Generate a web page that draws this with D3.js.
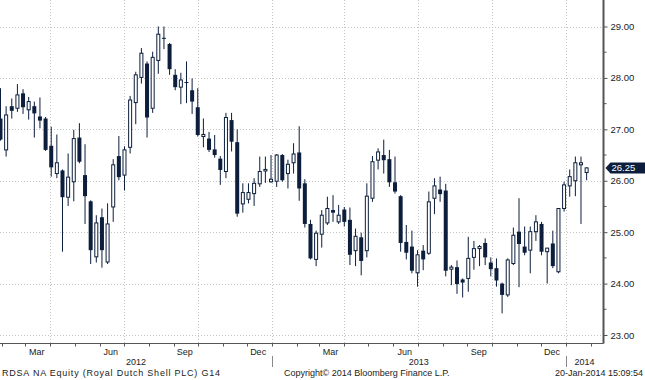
<!DOCTYPE html>
<html>
<head>
<meta charset="utf-8">
<script src="https://cdn.jsdelivr.net/npm/d3@7"></script>
<style>
  body { margin: 0; background: #fff; }
  svg { display: block; font-family: 'Liberation Sans', Arial, sans-serif; }
</style>
</head>
<body>
<svg id="chart" width="645" height="380"></svg>
<script>
// weekly candles, RDSA NA, from the week of 30-Jan-2012
const firstWeek = new Date(2012, 0, 30)
const openPx = [27.21, 26.60, 27.45, 27.41, 27.70, 27.38, 27.45, 27.25, 27.21, 26.68,
  26.14, 26.20, 25.68, 25.98, 26.84, 26.11, 25.60, 24.52, 25.29, 24.42,
  25.49, 26.48, 26.11, 26.65, 27.52, 28.01, 28.28, 27.41, 28.34, 28.78,
  28.66, 28.06, 27.82, 27.92, 27.76, 27.43, 26.86, 26.82, 26.61, 26.43,
  26.18, 27.18, 26.75, 25.55, 25.64, 25.75, 25.94, 26.19, 25.98, 25.99,
  26.50, 26.14, 26.35, 26.55, 25.95, 25.16, 24.47, 24.96, 25.18, 25.43,
  25.20, 25.44, 25.24, 24.64, 24.90, 24.64, 25.66, 26.40, 26.50, 26.42,
  25.97, 25.70, 24.81, 24.72, 24.21, 24.64, 24.59, 25.66, 25.83, 25.81,
  24.28, 24.32, 24.08, 24.10, 24.51, 24.68, 24.79, 24.41, 24.30, 24.00,
  23.78, 24.39, 25.01, 24.72, 24.65, 25.01, 25.16, 24.62, 24.78, 24.23,
  25.46, 25.90, 26.00, 26.31, 26.16]
const highPx = [27.80, 27.45, 27.60, 27.88, 27.78, 27.63, 27.54, 27.62, 27.24, 27.05,
  26.90, 26.22, 26.53, 26.99, 27.12, 26.71, 25.62, 25.33, 25.46, 25.56,
  26.42, 26.87, 26.67, 27.65, 28.12, 28.58, 28.32, 28.51, 29.00, 29.00,
  28.68, 28.17, 28.10, 28.32, 27.99, 27.80, 27.21, 26.95, 26.89, 26.48,
  27.32, 27.32, 27.00, 25.95, 25.95, 26.05, 26.47, 26.47, 26.50, 26.52,
  26.52, 26.41, 26.73, 27.06, 26.03, 25.24, 25.03, 25.43, 25.69, 25.72,
  25.53, 25.49, 25.48, 25.07, 24.99, 25.95, 26.48, 26.63, 26.80, 26.60,
  26.47, 25.72, 25.14, 25.03, 24.65, 24.75, 25.79, 26.05, 26.08, 25.94,
  24.36, 24.45, 24.10, 24.91, 24.83, 24.75, 24.88, 24.51, 24.49, 24.02,
  24.49, 25.09, 25.66, 25.11, 25.11, 25.33, 25.20, 24.69, 25.03, 25.46,
  25.98, 26.22, 26.47, 26.47, 26.26]
const lowPx = [26.78, 26.47, 27.21, 27.34, 27.30, 27.19, 26.84, 27.02, 26.58, 26.08,
  26.05, 24.62, 25.51, 25.60, 26.34, 25.16, 24.38, 24.41, 24.31, 24.38,
  25.20, 26.01, 25.81, 26.53, 27.10, 27.89, 26.84, 27.32, 28.08, 28.56,
  28.06, 27.76, 27.49, 27.51, 27.30, 26.86, 26.65, 26.56, 26.45, 25.92,
  26.05, 26.57, 25.30, 25.38, 25.56, 25.51, 25.88, 25.96, 25.96, 25.88,
  25.98, 25.85, 26.14, 25.61, 25.09, 24.47, 24.34, 24.70, 25.14, 25.20,
  25.16, 25.11, 24.36, 24.34, 24.16, 24.51, 25.59, 26.22, 26.14, 25.88,
  25.75, 24.62, 24.47, 24.20, 23.94, 24.26, 24.56, 25.35, 25.59, 24.14,
  23.97, 23.80, 23.73, 23.84, 24.27, 24.34, 24.36, 24.14, 23.94, 23.42,
  23.74, 24.36, 23.93, 24.55, 24.20, 24.83, 24.55, 24.00, 24.30, 24.20,
  25.40, 25.69, 25.70, 25.16, 26.01]
const closePx = [26.80, 27.28, 27.36, 27.67, 27.43, 27.54, 27.31, 27.17, 26.60, 26.26,
  26.35, 25.68, 26.07, 26.82, 26.37, 25.70, 24.65, 25.18, 24.65, 25.16,
  26.31, 26.07, 26.60, 27.57, 28.06, 28.48, 27.23, 28.40, 28.85, 28.76,
  28.17, 27.82, 27.96, 27.91, 27.54, 26.89, 26.90, 26.60, 26.50, 26.21,
  27.23, 26.76, 25.36, 25.77, 25.77, 25.95, 26.18, 26.22, 26.03, 26.50,
  26.01, 26.32, 26.52, 25.85, 25.16, 24.49, 24.98, 25.33, 25.46, 25.38,
  25.33, 25.20, 24.56, 24.92, 24.44, 25.70, 26.37, 26.56, 26.40, 25.97,
  25.79, 24.79, 24.60, 24.25, 24.56, 24.47, 25.59, 25.90, 25.74, 24.25,
  24.32, 23.99, 24.02, 24.49, 24.68, 24.72, 24.51, 24.28, 24.06, 23.78,
  24.46, 24.94, 24.77, 24.60, 25.01, 25.20, 24.62, 24.69, 24.34, 25.46,
  25.92, 26.08, 26.35, 26.35, 26.25]
const lastPrice = 26.25
const priceTicks = [23, 24, 25, 26, 27, 28, 29]
const minorTicks = [23.5, 24.5, 25.5, 26.5, 27.5, 28.5]
const labelMonths = [2, 5, 8, 11]
const footLeft = 'RDSA NA Equity (Royal Dutch Shell PLC) G14'
const footMid = 'Copyright\u00a9 2014 Bloomberg Finance L.P.'
const footRight = '20-Jan-2014 15:09:54'

const navy = '#0c1e3c'
const gridColor = '#c4c4c4'
const plotRight = 603.5
const plotBottom = 343.5

const svg = d3.select('#chart')

const x = d3.scaleTime()
  .domain([new Date(2012, 0, 30), new Date(2014, 0, 1)])
  .range([0.5, 565.7])
const y = d3.scaleLinear().domain([23, 29]).range([335, 26.5])

const weeks = d3.range(openPx.length).map(i => d3.timeWeek.offset(firstWeek, i))
const candles = weeks.map((d, i) => ({date: d, o: openPx[i], h: highPx[i], l: lowPx[i], c: closePx[i]}))

svg.append('defs').append('clipPath').attr('id', 'plot')
  .append('rect').attr('x', 0).attr('y', 0).attr('width', plotRight).attr('height', plotBottom)

// grid
const grid = svg.append('g')
  .attr('stroke', gridColor).attr('stroke-dasharray', '1,2').attr('shape-rendering', 'crispEdges')
grid.selectAll('line.h').data(priceTicks).enter().append('line')
  .attr('x1', 0).attr('x2', plotRight)
  .attr('y1', d => Math.round(y(d)) + 0.5).attr('y2', d => Math.round(y(d)) + 0.5)

const months = d3.timeMonth.range(x.invert(0), x.invert(plotRight))
grid.selectAll('line.v').data(months.filter(d => d.getMonth() % 3 === 0)).enter().append('line')
  .attr('y1', 0).attr('y2', plotBottom)
  .attr('x1', d => Math.round(x(d)) + 0.5).attr('x2', d => Math.round(x(d)) + 0.5)

// candles
const candleGroup = svg.append('g').attr('clip-path', 'url(#plot)')
const candle = candleGroup.selectAll('g').data(candles).enter().append('g')
  .attr('transform', d => 'translate(' + x(d.date) + ',0)')

candle.append('line')
  .attr('y1', d => y(d.h)).attr('y2', d => y(d.l))
  .attr('stroke', navy).attr('stroke-width', 1)

candle.append('rect')
  .attr('x', d => d.c < d.o ? -2 : -1.5)
  .attr('width', d => d.c < d.o ? 4 : 3)
  .attr('y', d => y(Math.max(d.o, d.c)))
  .attr('height', d => Math.max(1, y(Math.min(d.o, d.c)) - y(Math.max(d.o, d.c))))
  .attr('fill', d => d.c < d.o ? navy : '#fff')
  .attr('stroke', d => d.c < d.o ? 'none' : navy)
  .attr('stroke-width', 1)

// right price axis
svg.append('line')
  .attr('x1', plotRight).attr('x2', plotRight).attr('y1', 0).attr('y2', plotBottom)
  .attr('stroke', '#555').attr('stroke-width', 2)

const yAxis = svg.append('g')
  .attr('transform', 'translate(' + plotRight + ',0)')
  .call(d3.axisRight(y).tickValues(priceTicks).tickFormat(d3.format('.2f')).tickSize(4).tickPadding(3))
yAxis.select('.domain').remove()
yAxis.selectAll('line').attr('stroke', '#555')
yAxis.selectAll('text').attr('font-size', 9.5).attr('fill', '#222')
  .attr('font-family', "'Liberation Sans', Arial, sans-serif")

svg.append('g').selectAll('line').data(minorTicks).enter().append('line')
  .attr('x1', plotRight).attr('x2', plotRight + 3)
  .attr('y1', d => y(d)).attr('y2', d => y(d))
  .attr('stroke', '#555')

// last price tag
const ly = y(lastPrice)
svg.append('path')
  .attr('d', `M${plotRight + 2},${ly} L${plotRight + 7},${ly - 5.5} L645,${ly - 5.5} L645,${ly + 5.5} L${plotRight + 7},${ly + 5.5} Z`)
  .attr('fill', navy)
svg.append('text')
  .attr('x', plotRight + 8).attr('y', ly).attr('dy', '0.35em')
  .attr('font-size', 9.5).attr('fill', '#fff')
  .text(d3.format('.2f')(lastPrice))

// bottom time axis
svg.append('line')
  .attr('x1', 0).attr('x2', plotRight).attr('y1', plotBottom).attr('y2', plotBottom)
  .attr('stroke', '#555')
svg.append('g').selectAll('line').data(months).enter().append('line')
  .attr('x1', d => Math.round(x(d)) + 0.5).attr('x2', d => Math.round(x(d)) + 0.5)
  .attr('y1', plotBottom).attr('y2', plotBottom + 3)
  .attr('stroke', '#555')

svg.append('g').selectAll('text')
  .data(months.filter(d => labelMonths.includes(d.getMonth()))).enter().append('text')
  .attr('x', d => x(d3.timeDay.offset(d, 14)))
  .attr('y', 355)
  .attr('text-anchor', 'middle').attr('font-size', 9).attr('fill', '#222')
  .text(d3.timeFormat('%b'))

const years = d3.timeYear.range(d3.timeYear.floor(x.invert(0)), x.invert(plotRight))
svg.append('g').selectAll('text').data(years).enter().append('text')
  .attr('x', d => (Math.max(0, x(d)) + Math.min(plotRight, x(d3.timeYear.offset(d, 1)))) / 2)
  .attr('y', 365)
  .attr('text-anchor', 'middle').attr('font-size', 9).attr('fill', '#222')
  .text(d3.timeFormat('%Y'))
svg.append('g').selectAll('line').data(years.filter(d => x(d) > 0)).enter().append('line')
  .attr('x1', d => Math.round(x(d)) + 0.5).attr('x2', d => Math.round(x(d)) + 0.5)
  .attr('y1', 356).attr('y2', 367)
  .attr('stroke', '#888')

// footer
const foot = svg.append('g').attr('font-size', 9).attr('fill', '#222')
foot.append('text').attr('x', 2).attr('y', 376)
  .attr('textLength', 218).attr('lengthAdjust', 'spacing')
  .text(footLeft)
foot.append('text').attr('x', 284).attr('y', 376).text(footMid)
foot.append('text').attr('x', 643).attr('y', 376).attr('text-anchor', 'end').text(footRight)
</script>
</body>
</html>
